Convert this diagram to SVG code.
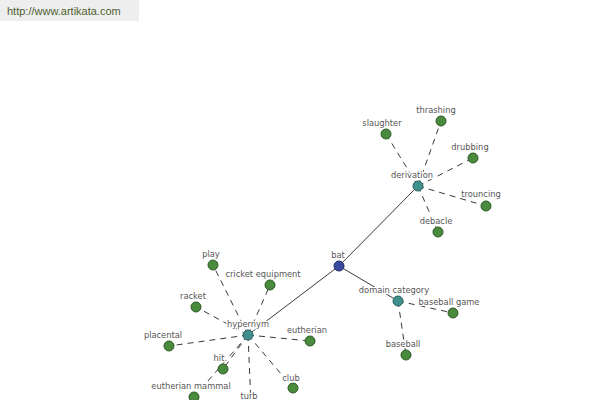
<svg xmlns="http://www.w3.org/2000/svg" width="600" height="400" viewBox="0 0 600 400">
<style>
.bg{fill:#ffffff}
.hdr{fill:#eeeeee}
.url{font-family:"Liberation Sans","DejaVu Sans",sans-serif;font-size:11px;fill:#4f5f2f}
.solid{stroke:#222;stroke-width:0.9;fill:none}
.dash{stroke:#222;stroke-width:0.9;fill:none;stroke-dasharray:6 5}
.leaf{fill:#4a8a3c;stroke:#2e5a26;stroke-width:1}
.mid{fill:#3f8f8c;stroke:#2a5e5c;stroke-width:1}
.root{fill:#3a4aa0;stroke:#1f2a66;stroke-width:1}
.lbl{font-family:"DejaVu Sans","Liberation Sans",sans-serif;font-size:8.3px;fill:#555;text-anchor:middle;paint-order:stroke;stroke:#fff;stroke-width:2.5px;stroke-linejoin:round}
</style>
<rect class="bg" x="0" y="0" width="600" height="400"/>
<rect class="hdr" x="0" y="0" width="139" height="21"/>
<text class="url" x="7" y="15">http://www.artikata.com</text>
<g id="connectors">
<line class="solid" x1="339" y1="266" x2="418" y2="186"/>
<line class="solid" x1="339" y1="266" x2="248" y2="335"/>
<line class="solid" x1="339" y1="266" x2="398" y2="301"/>
<line class="dash" x1="418" y1="186" x2="386" y2="134"/>
<line class="dash" x1="418" y1="186" x2="441" y2="121"/>
<line class="dash" x1="418" y1="186" x2="473" y2="158"/>
<line class="dash" x1="418" y1="186" x2="486" y2="206"/>
<line class="dash" x1="418" y1="186" x2="438" y2="232"/>
<line class="dash" x1="398" y1="301" x2="453" y2="313"/>
<line class="dash" x1="398" y1="301" x2="406" y2="355"/>
<line class="dash" x1="248" y1="335" x2="213" y2="265"/>
<line class="dash" x1="248" y1="335" x2="270" y2="285"/>
<line class="dash" x1="248" y1="335" x2="196" y2="307"/>
<line class="dash" x1="248" y1="335" x2="169" y2="346"/>
<line class="dash" x1="248" y1="335" x2="310" y2="341"/>
<line class="dash" x1="248" y1="335" x2="223" y2="369"/>
<line class="dash" x1="248" y1="335" x2="194" y2="397"/>
<line class="dash" x1="248" y1="335" x2="251" y2="404"/>
<line class="dash" x1="248" y1="335" x2="293" y2="388"/>
</g>
<g id="bat"><circle class="root" cx="339" cy="266" r="5"/><text class="lbl" x="338" y="258">bat</text></g>
<g id="derivation"><circle class="mid" cx="418" cy="186" r="5"/><text class="lbl" x="412" y="178">derivation</text></g>
<g id="domain-category"><circle class="mid" cx="398" cy="301" r="5"/><text class="lbl" x="394" y="293">domain category</text></g>
<g id="hypernym"><circle class="mid" cx="248" cy="335" r="5"/><text class="lbl" x="248" y="327">hypernym</text></g>
<g id="slaughter"><circle class="leaf" cx="386" cy="134" r="5"/><text class="lbl" x="382" y="126">slaughter</text></g>
<g id="thrashing"><circle class="leaf" cx="441" cy="121" r="5"/><text class="lbl" x="436" y="113">thrashing</text></g>
<g id="drubbing"><circle class="leaf" cx="473" cy="158" r="5"/><text class="lbl" x="470" y="150">drubbing</text></g>
<g id="trouncing"><circle class="leaf" cx="486" cy="206" r="5"/><text class="lbl" x="481" y="197">trouncing</text></g>
<g id="debacle"><circle class="leaf" cx="438" cy="232" r="5"/><text class="lbl" x="436" y="224">debacle</text></g>
<g id="baseball-game"><circle class="leaf" cx="453" cy="313" r="5"/><text class="lbl" x="449" y="305">baseball game</text></g>
<g id="baseball"><circle class="leaf" cx="406" cy="355" r="5"/><text class="lbl" x="403" y="347">baseball</text></g>
<g id="play"><circle class="leaf" cx="213" cy="265" r="5"/><text class="lbl" x="211" y="257">play</text></g>
<g id="cricket-equipment"><circle class="leaf" cx="270" cy="285" r="5"/><text class="lbl" x="263" y="277">cricket equipment</text></g>
<g id="racket"><circle class="leaf" cx="196" cy="307" r="5"/><text class="lbl" x="193" y="299">racket</text></g>
<g id="placental"><circle class="leaf" cx="169" cy="346" r="5"/><text class="lbl" x="163" y="338">placental</text></g>
<g id="eutherian"><circle class="leaf" cx="310" cy="341" r="5"/><text class="lbl" x="307" y="333">eutherian</text></g>
<g id="hit"><circle class="leaf" cx="223" cy="369" r="5"/><text class="lbl" x="219" y="361">hit</text></g>
<g id="eutherian-mammal"><circle class="leaf" cx="194" cy="397" r="5"/><text class="lbl" x="191" y="389">eutherian mammal</text></g>
<g id="turb"><circle class="leaf" cx="251" cy="407" r="5"/><text class="lbl" x="249" y="399">turb</text></g>
<g id="club"><circle class="leaf" cx="293" cy="388" r="5"/><text class="lbl" x="291" y="381">club</text></g>
</svg>
